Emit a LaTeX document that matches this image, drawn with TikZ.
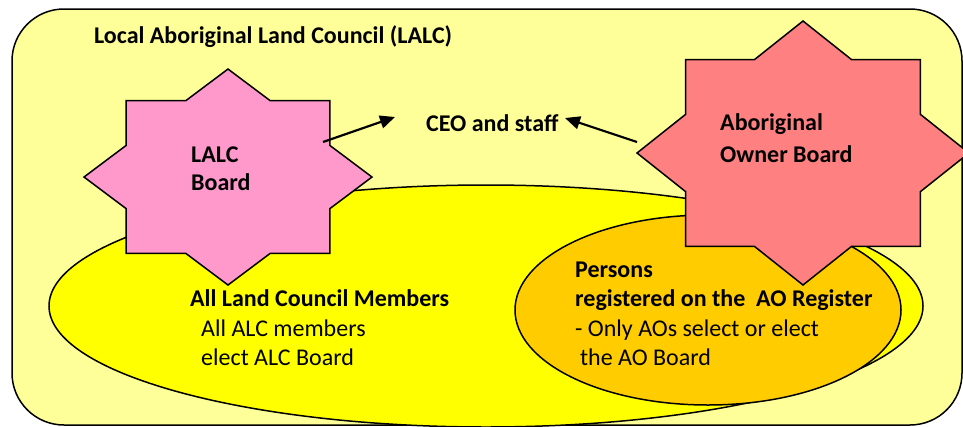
\documentclass[tikz,border=0pt]{standalone}
\usepackage{fontspec}
\setmainfont{Carlito}
\usetikzlibrary{arrows.meta}
\definecolor{bgyellow}{HTML}{FFFF99}
\definecolor{ellyellow}{HTML}{FFFF00}
\definecolor{aoorange}{HTML}{FFCC00}
\definecolor{pinkstar}{HTML}{FF99CC}
\definecolor{salmonstar}{HTML}{FF8080}
\begin{document}
\begin{tikzpicture}[x=1pt,y=-1pt,
  outline/.style={draw=black, line width=1.5pt},
  lbl/.style={anchor=base west, inner sep=0pt, font=\fontsize{24}{28}\selectfont\bfseries},
  txt/.style={anchor=base west, inner sep=0pt, font=\fontsize{24}{28}\selectfont},
  arr/.style={line width=2.2pt, -{Triangle[length=15pt,width=13pt]}}]
\useasboundingbox (0,0) rectangle (963,426);
% council frame
\draw[outline, fill=bgyellow, rounded corners=52pt] (12,9) rectangle (962,425);
% ellipses
\draw[outline, fill=ellyellow] (486,306) ellipse [x radius=437pt, y radius=121pt];
\draw[outline, fill=aoorange] (708,310) ellipse [x radius=193pt, y radius=95pt];
% LALC star
\begin{scope}[shift={(228,177)}]
  \begin{scope}[x=144pt,y=108pt]
    \draw[outline, fill=pinkstar] (0:1) \foreach \k in {1,...,15}{ -- ({\k*22.5}:{isodd(\k) ? 0.7654 : 1}) } -- cycle;
  \end{scope}
\end{scope}
% AO star
\begin{scope}[shift={(803,153)}]
  \begin{scope}[x=166pt,y=132pt]
    \draw[outline, fill=salmonstar] (0:1) \foreach \k in {1,...,15}{ -- ({\k*22.5}:{isodd(\k) ? 0.7654 : 1}) } -- cycle;
  \end{scope}
\end{scope}
% texts
\node[lbl] (title) at (94,43) {Local Aboriginal Land Council (LALC)};
\node[lbl] (lalc1) at (191,162) {LALC};
\node[lbl] (lalc2) at (191,190) {Board};
\node[lbl] (ceo) at (426,131) {CEO and staff};
\node[lbl] (aob1) at (720,130) {Aboriginal};
\node[lbl] (aob2) at (720,162) {Owner Board};
\node[lbl] (mem1) at (190,306) {All Land Council Members};
\node[txt] (mem2) at (201,336) {All ALC members};
\node[txt] (mem3) at (201,365) {elect ALC Board};
\node[lbl] (per1) at (575,277) {Persons};
\node[lbl] (per2) at (575,306) {registered on the\ \ AO Register};
\node[txt] (per3) at (575,336) {- Only AOs select or elect};
\node[txt] (per4) at (580,365) {the AO Board};
% arrows
\coordinate (a1s) at (323,142);
\coordinate (a1e) at (395,117);
\coordinate (a2s) at (637,142);
\coordinate (a2e) at (565,118);
\draw[arr] (a1s) -- (a1e);
\draw[arr] (a2s) -- (a2e);
\end{tikzpicture}
\end{document}
